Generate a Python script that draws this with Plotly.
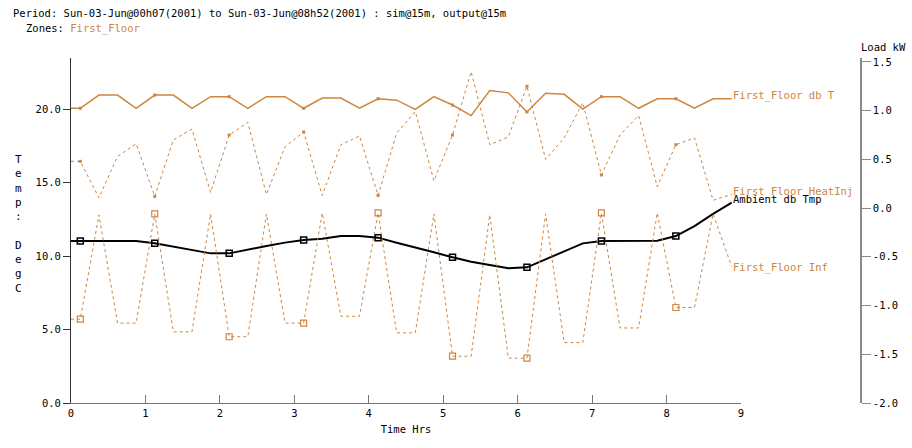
import plotly.graph_objects as go

# time (hours) of each output step; first sample repeated at t=0
times = [0.0, 0.125, 0.375, 0.625, 0.875, 1.125, 1.375, 1.625, 1.875, 2.125, 2.375,
         2.625, 2.875, 3.125, 3.375, 3.625, 3.875, 4.125, 4.375, 4.625, 4.875,
         5.125, 5.375, 5.625, 5.875, 6.125, 6.375, 6.625, 6.875, 7.125, 7.375,
         7.625, 7.875, 8.125, 8.375, 8.625, 8.875]

db_t = [20.05, 20.05, 20.95, 20.95, 20.05, 20.95, 20.95, 20.05, 20.84, 20.84, 20.05,
        20.84, 20.84, 20.05, 20.75, 20.75, 20.05, 20.7, 20.6, 19.98, 20.84,
        20.27, 19.55, 21.25, 21.1, 19.8, 21.07, 21.0, 20.0, 20.84, 20.84,
        20.05, 20.7, 20.7, 20.05, 20.7, 20.7]

heat_inj = [0.48, 0.48, 0.106, 0.53, 0.66, 0.12, 0.70, 0.81, 0.16, 0.75, 0.88,
            0.14, 0.63, 0.78, 0.13, 0.65, 0.74, 0.13, 0.77, 0.99, 0.28,
            0.75, 1.40, 0.65, 0.73, 1.25, 0.50, 0.72, 1.08, 0.34, 0.75,
            0.95, 0.22, 0.65, 0.72, 0.08, 0.14]

ambient = [11.02, 11.02, 11.02, 11.02, 11.02, 10.86, 10.63, 10.41, 10.18, 10.18, 10.45,
           10.68, 10.91, 11.09, 11.18, 11.36, 11.36, 11.25, 10.9, 10.59, 10.25,
           9.91, 9.61, 9.39, 9.16, 9.23, 9.77, 10.29, 10.86, 11.02, 11.04,
           11.04, 11.04, 11.36, 12.04, 12.86, 13.63]

infil = [-1.14, -1.14, -0.07, -1.18, -1.18, -0.06, -1.27, -1.27, -0.06, -1.32, -1.32,
         -0.06, -1.18, -1.18, -0.05, -1.11, -1.11, -0.05, -1.28, -1.28, -0.06,
         -1.52, -1.52, -0.07, -1.54, -1.54, -0.06, -1.38, -1.38, -0.05, -1.23,
         -1.23, -0.05, -1.02, -1.02, -0.06, -0.60]

x_ticks = [0, 1, 2, 3, 4, 5, 6, 7, 8, 9]
y_ticks = [0, 5, 10, 15, 20]
y_ticktext = ["0.0", "5.0", "10.0", "15.0", "20.0"]
y2_ticks = [-2.0, -1.5, -1.0, -0.5, 0.0, 0.5, 1.0, 1.5]
y2_ticktext = ["-2.0", "-1.5", "-1.0", "-0.5", "0.0", "0.5", "1.0", "1.5"]

ORANGE = "#cd853f"
FONT = "DejaVu Sans Mono"
FS = 10.5

fig = go.Figure()

# hourly markers: every 4th output step (skip the t=0 duplicate)
idx = list(range(1, len(times), 4))

# First_Floor db T
fig.add_trace(go.Scatter(x=times, y=db_t, mode="lines",
                         line=dict(color=ORANGE, width=1.5), yaxis="y"))
fig.add_trace(go.Scatter(x=[times[i] for i in idx], y=[db_t[i] for i in idx], mode="markers",
                         marker=dict(symbol="square", size=3, color=ORANGE), yaxis="y"))
# HeatInj
fig.add_trace(go.Scatter(x=times, y=heat_inj, mode="lines",
                         line=dict(color=ORANGE, width=1, dash="3px,3px"), yaxis="y2"))
fig.add_trace(go.Scatter(x=[times[i] for i in idx], y=[heat_inj[i] for i in idx], mode="markers",
                         marker=dict(symbol="square", size=3, color=ORANGE), yaxis="y2"))
# Inf
fig.add_trace(go.Scatter(x=times, y=infil, mode="lines",
                         line=dict(color=ORANGE, width=1, dash="3px,3px"), yaxis="y2"))
fig.add_trace(go.Scatter(x=[times[i] for i in idx], y=[infil[i] for i in idx], mode="markers",
                         marker=dict(symbol="square-open", size=6, color=ORANGE,
                                     line=dict(width=1.2, color=ORANGE)), yaxis="y2"))
# Ambient
fig.add_trace(go.Scatter(x=times, y=ambient, mode="lines",
                         line=dict(color="black", width=2), yaxis="y"))
fig.add_trace(go.Scatter(x=[times[i] for i in idx], y=[ambient[i] for i in idx], mode="markers",
                         marker=dict(symbol="square-open", size=6, color="black",
                                     line=dict(width=1.5, color="black")), yaxis="y"))

W, H = 912, 448
ML, MR, MT, MB = 71, 51, 58, 45
PW = W - ML - MR
PH = H - MT - MB

def px_to_paper_x(px):
    return (px - ML) / PW

def py_to_paper_y(py):
    return (H - MB - py) / PH

annotations = [
    dict(text="Period: Sun-03-Jun@00h07(2001) to Sun-03-Jun@08h52(2001) : sim@15m, output@15m",
         xref="paper", yref="paper", x=px_to_paper_x(11), y=py_to_paper_y(13),
         xanchor="left", yanchor="middle", showarrow=False,
         font=dict(family=FONT, size=FS, color="black")),
    dict(text="Zones: <span style='color:%s'>First_Floor</span>" % ORANGE,
         xref="paper", yref="paper", x=px_to_paper_x(24), y=py_to_paper_y(29),
         xanchor="left", yanchor="middle", showarrow=False,
         font=dict(family=FONT, size=FS, color="black")),
    dict(text="Load kW", xref="paper", yref="paper", x=px_to_paper_x(859), y=py_to_paper_y(47),
         xanchor="left", yanchor="middle", showarrow=False,
         font=dict(family=FONT, size=FS, color="black")),
    dict(text="T<br>e<br>m<br>p<br>:<br> <br>D<br>e<br>g<br>C",
         xref="paper", yref="paper", x=px_to_paper_x(18), y=py_to_paper_y(224),
         xanchor="center", yanchor="middle", showarrow=False,
         font=dict(family=FONT, size=11, color="black")),
    dict(text="First_Floor db T", xref="x", yref="y", x=times[-1], y=db_t[-1],
         xanchor="left", yanchor="middle", showarrow=False, yshift=3, xshift=-1,
         font=dict(family=FONT, size=FS, color=ORANGE)),
    dict(text="First_Floor HeatInj", xref="x", yref="y2", x=times[-1], y=heat_inj[-1],
         xanchor="left", yanchor="middle", showarrow=False, yshift=3, xshift=-1,
         font=dict(family=FONT, size=FS, color=ORANGE)),
    dict(text="Ambient db Tmp", xref="x", yref="y", x=times[-1], y=ambient[-1],
         xanchor="left", yanchor="middle", showarrow=False, yshift=4, xshift=-1,
         font=dict(family=FONT, size=FS, color="black")),
    dict(text="First_Floor Inf", xref="x", yref="y2", x=times[-1], y=infil[-1],
         xanchor="left", yanchor="middle", showarrow=False, yshift=-1, xshift=-1,
         font=dict(family=FONT, size=FS, color=ORANGE)),
]

fig.update_layout(
    width=W, height=H, autosize=False,
    margin=dict(l=ML, r=MR, t=MT, b=MB, pad=0, autoexpand=False),
    paper_bgcolor="white", plot_bgcolor="white",
    showlegend=False, hovermode=False,
    font=dict(family=FONT, size=FS, color="black"),
    xaxis=dict(domain=[0, 670 / PW], range=[0, 9], tickvals=x_ticks,
               ticks="inside", ticklen=8, tickcolor="#777", showline=True,
               linecolor="#777", linewidth=1, showgrid=False, zeroline=False,
               automargin=False,
               title=dict(text="Time Hrs", standoff=8, font=dict(family=FONT, size=FS)),
               tickfont=dict(family=FONT, size=FS)),
    yaxis=dict(range=[0, 23.47], tickvals=y_ticks, ticktext=y_ticktext,
               ticks="outside", ticklen=7, tickcolor="#333", showline=True,
               linecolor="#333", linewidth=1, showgrid=False, zeroline=False,
               automargin=False,
               tickfont=dict(family=FONT, size=FS)),
    yaxis2=dict(range=[-2.0, 1.54], tickvals=y2_ticks, ticktext=y2_ticktext,
                overlaying="y", side="right", anchor="free", position=1.0,
                ticks="outside", ticklen=9, tickcolor="#888", showline=True,
                linecolor="#888", linewidth=1.5, showgrid=False, zeroline=False,
                automargin=False,
                tickfont=dict(family=FONT, size=FS)),
    annotations=annotations,
)

fig.write_html(
    "out.html",
    config={"displayModeBar": False},
    post_script="document.body.style.margin='0';document.body.style.overflow='hidden';",
)
